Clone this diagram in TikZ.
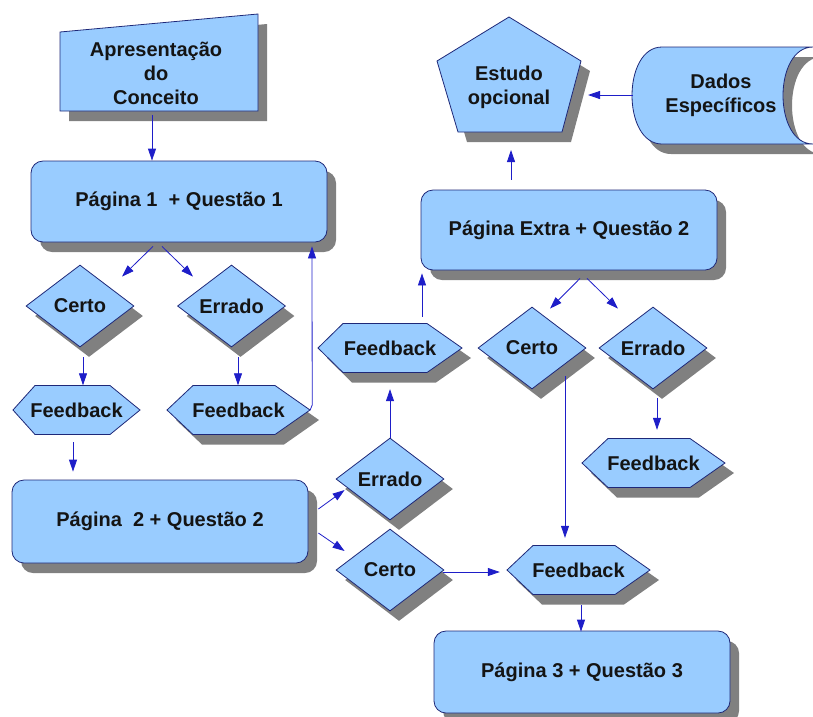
\documentclass[tikz,border=0pt]{standalone}
\usepackage{fontspec}
\setmainfont{Liberation Sans}
\usetikzlibrary{shapes.geometric,arrows.meta,shadows,calc}
\definecolor{boxfill}{RGB}{153,204,255}
\definecolor{boxline}{RGB}{30,40,120}
\definecolor{shade}{RGB}{128,128,128}
\definecolor{arrowc}{RGB}{30,30,200}
\definecolor{txtc}{RGB}{20,20,20}
\tikzset{
  shapebox/.style={fill=boxfill, draw=boxline, line width=0.8pt, line join=miter},
  shadowbox/.style={fill=shade, draw=none},
  dshadow/.style={drop shadow={shadow xshift=9pt, shadow yshift=-10pt, fill=shade, opacity=1}},
  lbl/.style={font=\bfseries\fontsize{20}{24}\selectfont, text=txtc, align=center, inner sep=0pt},
  pagebox/.style={lbl, shapebox, dshadow, rounded corners=12pt, minimum width=296pt, minimum height=81pt},
  choice/.style={lbl, shapebox, dshadow, diamond, minimum width=108pt, minimum height=82pt},
  hexlbl/.style={lbl, minimum height=49pt},
  arr/.style={draw=arrowc, line width=0.8pt, -{Triangle[length=12pt,width=8pt]}}
}
% hexagon: left x, top-left x, top-right x, right x, centre y, style
\newcommand\hexshape[6]{\path[#6] (#1,#5) -- (#2,{#5-24.5}) -- (#3,{#5-24.5}) -- (#4,#5) -- (#3,{#5+24.5}) -- (#2,{#5+24.5}) -- cycle;}
\begin{document}
\begin{tikzpicture}[x=1pt,y=-1pt]
\useasboundingbox (0,0) rectangle (813,716);

% ---- Apresentacao do Conceito (manual input)
\path[shadowbox, shift={(9,10)}] (60,32) -- (258,14) -- (258,111) -- (60,111) -- cycle;
\path[shapebox] (60,32) -- (258,14) -- (258,111) -- (60,111) -- cycle;
\node[lbl] (apres) at (156,73) {Apresentação\\do\\Conceito};
\coordinate (apresS) at (152,115);

% ---- Estudo opcional (pentagon)
\path[shadowbox, shift={(9,10)}] (509,17) -- (581,61) -- (562,132) -- (458,132) -- (437,61) -- cycle;
\path[shapebox] (509,17) -- (581,61) -- (562,132) -- (458,132) -- (437,61) -- cycle;
\node[lbl] (est) at (509,87) {Estudo\\opcional};
\coordinate (estS) at (511,150);
\coordinate (estE) at (588,95);

% ---- Dados Especificos (stored data)
\path[shadowbox, shift={(9,10)}] (662,47) -- (813,47) .. controls (773,47) and (773,144) .. (813,144) -- (662,144) .. controls (622,144) and (622,47) .. (662,47) -- cycle;
\path[shapebox] (662,47) -- (813,47) .. controls (773,47) and (773,144) .. (813,144) -- (662,144) .. controls (622,144) and (622,47) .. (662,47) -- cycle;
\node[lbl] (dados) at (721,95.5) {Dados\\Específicos};
\coordinate (dadW) at (633,95);

% ---- pages
\node[pagebox] (p1) at (179,201.5) {Página 1~~+ Questão 1};
\node[pagebox, minimum height=83pt] (p2) at (160,521.5) {Página~~2 + Questão 2};
\node[pagebox, minimum height=80pt] (pe) at (569,230) {Página Extra + Questão 2};
\node[pagebox, minimum height=82pt] (p3) at (582,672) {Página 3 + Questão 3};

% ---- choices
\node[choice] (c1) at (80,306) {Certo};
\node[choice] (e1) at (231.5,306) {Errado};
\node[choice] (e2) at (390,479) {Errado};
\node[choice] (c2) at (390,570) {Certo};
\node[choice] (c3) at (532,348) {Certo};
\node[choice] (e3) at (653,348) {Errado};

% ---- feedback hexagons
\hexshape{13}{35}{110}{140}{410}{shapebox}
\node[hexlbl, minimum width=127pt] (f1) at (76.5,410) {Feedback};

\hexshape{167}{193}{275}{310}{410}{shadowbox,shift={(9,10)}}
\hexshape{167}{193}{275}{310}{410}{shapebox}
\node[hexlbl, minimum width=143pt] (f2) at (238.5,410) {Feedback};

\hexshape{318}{343}{427}{462}{348}{shadowbox,shift={(9,10)}}
\hexshape{318}{343}{427}{462}{348}{shapebox}
\node[hexlbl, minimum width=144pt] (f3) at (390,348) {Feedback};

\hexshape{507}{533}{615}{650}{570}{shadowbox,shift={(9,10)}}
\hexshape{507}{533}{615}{650}{570}{shapebox}
\node[hexlbl, minimum width=143pt] (f4) at (578.5,570) {Feedback};

\hexshape{582}{608}{690}{725}{463}{shadowbox,shift={(9,10)}}
\hexshape{582}{608}{690}{725}{463}{shapebox}
\node[hexlbl, minimum width=143pt] (f5) at (653.5,463) {Feedback};

% ---- connectors
\draw[arr] (apresS) -- (apresS |- p1.north);
\draw[arr] ($(p1.south)+(-26,4)$) -- ($(c1.north)+(42,12)$);
\draw[arr] ($(p1.south)+(-17,4)$) -- ($(e1.north)+(-38.5,12)$);
\draw[arr] ($(c1.south)+(3,10)$) -- ($(f1.north)+(6.5,0)$);
\draw[arr] ($(e1.south)+(6.5,10)$) -- ($(f2.north)+(-0.5,0)$);
\draw[arr] (f2.east) -- ($(f2.east)+(2,-5)$) -- ($(p1.south)+(133,4)$);
\draw[arr] ($(f1.south)+(-3.5,7.5)$) -- ($(p2.north)+(-87,-8)$);
\draw[arr] ($(p2.east)+(10,-12.5)$) -- ($(e2.west)+(9,11)$);
\draw[arr] ($(p2.east)+(10,11.5)$) -- ($(c2.west)+(9,-19)$);
\draw[arr] (e2.north) -- ($(f3.south)+(0,16.5)$);
\draw[arr] ($(f3.north)+(32,-6.5)$) -- ($(pe.south)+(-147,3)$);
\draw[arr] ($(pe.north)+(-58,-10)$) -- (estS);
\draw[arr] (dadW) -- (estE);
\draw[arr] ($(pe.south)+(11,8)$) -- ($(c3.north)+(18,2)$);
\draw[arr] ($(pe.south)+(18,8)$) -- ($(e3.north)+(-35,2)$);
\draw[arr] ($(c3.center)+(33,28)$) -- ($(f4.north)+(-13.5,-7.5)$);
\draw[arr] ($(e3.south)+(4,9)$) -- ($(f5.north)+(3.5,-8.5)$);
\draw[arr] ($(c2.east)+(-1,2)$) -- ($(f4.west)+(-7,2)$);
\draw[arr] ($(f4.south)+(2.5,10.5)$) -- ($(p3.north)+(-1,1)$);
\end{tikzpicture}
\end{document}
